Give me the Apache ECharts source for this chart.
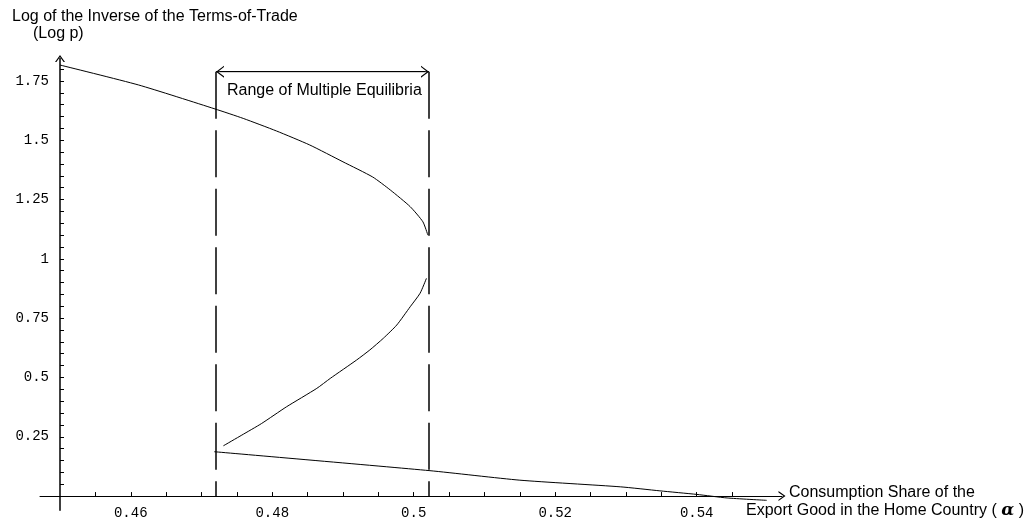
<!DOCTYPE html>
<html>
<head>
<meta charset="utf-8">
<script src="https://cdn.jsdelivr.net/npm/echarts@6/dist/echarts.min.js"></script>
<style>
  html, body { margin: 0; padding: 0; background: #fff; }
  #chart { width: 1032px; height: 525px; }
</style>
</head>
<body>
<div id="chart"></div>
<script>
// ---- data ----
const upperX = [0.4500, 0.4611, 0.4719, 0.4759, 0.4806, 0.4853, 0.4900, 0.4942, 0.4967, 0.4995, 0.5013, 0.5020];
const upperY = [1.817, 1.733, 1.632, 1.592, 1.539, 1.480, 1.409, 1.345, 1.290, 1.220, 1.156, 1.100];

const middleX = [0.4731, 0.4757, 0.4785, 0.4820, 0.4863, 0.4882, 0.4919, 0.4938, 0.4957, 0.4976, 0.4995, 0.5009, 0.5018];
const middleY = [0.212, 0.257, 0.306, 0.376, 0.454, 0.496, 0.573, 0.616, 0.665, 0.721, 0.798, 0.855, 0.918];

const lowerX = [0.4718, 0.5023, 0.5150, 0.5292, 0.5348, 0.5400, 0.5443, 0.5499];
const lowerY = [0.187, 0.107, 0.067, 0.039, 0.022, 0.007, -0.008, -0.018];

const rangeX = [0.47205, 0.50216];   // edges of the range of multiple equilibria
const bracketY = 1.789;

const xTickValues = [0.455, 0.46, 0.465, 0.47, 0.475, 0.48, 0.485, 0.49, 0.495, 0.5,
                     0.505, 0.51, 0.515, 0.52, 0.525, 0.53, 0.535, 0.54, 0.545];
const xLabelValues = [0.46, 0.48, 0.5, 0.52, 0.54];
const yTickValues = [0.05, 0.1, 0.15, 0.2, 0.25, 0.3, 0.35, 0.4, 0.45, 0.5, 0.55, 0.6,
                     0.65, 0.7, 0.75, 0.8, 0.85, 0.9, 0.95, 1, 1.05, 1.1, 1.15, 1.2,
                     1.25, 1.3, 1.35, 1.4, 1.45, 1.5, 1.55, 1.6, 1.65, 1.7, 1.75, 1.8];
const yLabelValues = [0.25, 0.5, 0.75, 1, 1.25, 1.5, 1.75];

const yTitle = 'Log of the Inverse of the Terms-of-Trade';
const yTitle2 = '(Log p)';
const xTitle1 = 'Consumption Share of the';
const xTitle2 = 'Export Good in the Home Country ( {a|α} )';
const rangeLabel = 'Range of Multiple Equilibria';

// ---- layout ----
const xMin = 0.44717, xMax = 0.55206;
const gridLeft = 40, gridWidth = 742, gridTop = 58.4, gridHeight = 451.9;

const zip = (xs, ys) => xs.map((x, i) => [x, ys[i]]);
const chevAxis = 'path://M0,7 L5,0 L10,7 L8.6,7 L5,2 L1.4,7 Z';
const chevBracket = 'path://M0,8 L6,0 L12,8 L10.6,8 L6,2 L1.4,8 Z';
const dx = 4 * (xMax - xMin) / gridWidth;

const sans = '"Liberation Sans", Arial, sans-serif';
const mono = '"Liberation Mono", "Courier New", monospace';

const chart = echarts.init(document.getElementById('chart'), null, { renderer: 'canvas' });
const black = '#000';
const curve = (name, data) => ({
  name, type: 'line', data, showSymbol: false, smooth: 0.2,
  lineStyle: { color: black, width: 1 }, silent: true
});
const dashed = (x) => ({
  type: 'line', data: [[x, bracketY], [x, 0]], showSymbol: false, silent: true,
  lineStyle: { color: black, width: 1.5, type: [47, 11.5] }
});

chart.setOption({
  animation: false,
  backgroundColor: '#fff',
  grid: { left: gridLeft, top: gridTop, width: gridWidth, height: gridHeight, outerBoundsMode: 'none', containLabel: false },
  xAxis: {
    type: 'value', min: xMin, max: xMax,
    axisLine: { onZero: true, lineStyle: { color: black, width: 1 }, symbol: ['none', chevAxis], symbolSize: [10, 7] },
    axisTick: { inside: true, length: 4, customValues: xTickValues, lineStyle: { color: black, width: 1 } },
    axisLabel: { customValues: xLabelValues, formatter: v => String(v), margin: -4, color: black, fontFamily: mono, fontSize: 14 },
    splitLine: { show: false }
  },
  yAxis: {
    type: 'value', min: -0.06, max: 1.845, offset: -20,
    axisLine: { lineStyle: { color: black, width: 1.5 }, symbol: ['none', chevAxis], symbolSize: [10, 7] },
    axisTick: { inside: true, length: 4, customValues: yTickValues, lineStyle: { color: black, width: 1 } },
    axisLabel: { customValues: yLabelValues, formatter: v => String(v), margin: 11, color: black, fontFamily: mono, fontSize: 14 },
    splitLine: { show: false }
  },
  series: [
    curve('upper', zip(upperX, upperY)),
    curve('middle', zip(middleX, middleY)),
    curve('lower', zip(lowerX, lowerY)),
    dashed(rangeX[0]),
    dashed(rangeX[1]),
    {
      type: 'line', data: [[rangeX[0], bracketY], [rangeX[1], bracketY]], showSymbol: false, silent: true,
      lineStyle: { color: black, width: 1 },
      markLine: {
        silent: true, symbol: [chevBracket, chevBracket], symbolSize: [12, 8],
        label: { show: false },
        lineStyle: { color: black, width: 1, type: 'solid' },
        data: [[{ coord: [rangeX[0] + dx, bracketY] }, { coord: [rangeX[1] - dx, bracketY] }]]
      }
    }
  ],
  graphic: [
    { type: 'text', silent: true, style: { text: yTitle, x: 12, y: 17, verticalAlign: 'middle', fill: black, fontSize: 16, fontFamily: sans } },
    { type: 'text', silent: true, style: { text: yTitle2, x: 33, y: 34, verticalAlign: 'middle', fill: black, fontSize: 16, fontFamily: sans } },
    { type: 'text', silent: true, style: { text: rangeLabel, x: 227, y: 91, verticalAlign: 'middle', fill: black, fontSize: 16, fontFamily: sans } },
    { type: 'text', silent: true, style: { text: xTitle1, x: 789, y: 493, verticalAlign: 'middle', fill: black, fontSize: 16, fontFamily: sans } },
    { type: 'text', silent: true, style: { text: xTitle2, x: 746, y: 511, verticalAlign: 'middle', fill: black, fontSize: 16, fontFamily: sans,
        rich: { a: { fontStyle: 'italic', fontWeight: 'bold', fontSize: 17, fontFamily: '"DejaVu Serif", serif', fill: black } } } }
  ]
});
</script>
</body>
</html>
